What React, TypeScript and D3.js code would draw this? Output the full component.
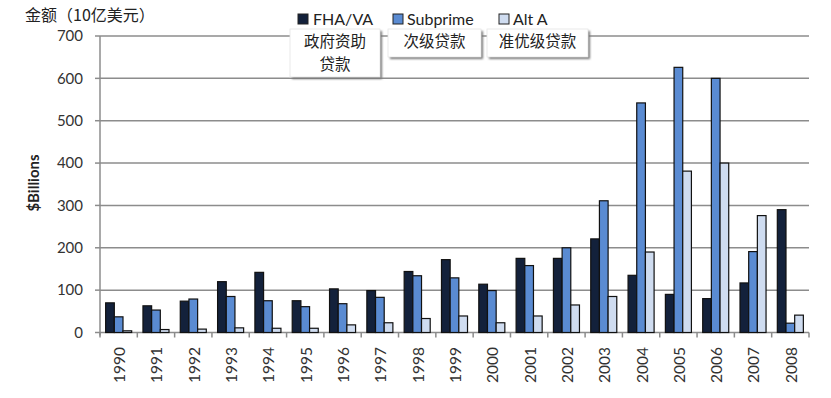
import React from "react";
import * as d3 from "d3";

const years = ["1990","1991","1992","1993","1994","1995","1996","1997","1998","1999","2000","2001","2002","2003","2004","2005","2006","2007","2008"];
const fhaVa = [70, 63, 74, 120, 142, 75, 103, 99, 144, 172, 114, 175, 175, 221, 135, 90, 80, 117, 290];
const subprime = [37, 53, 79, 85, 75, 61, 68, 83, 134, 129, 99, 158, 200, 311, 542, 626, 600, 191, 22];
const altA = [4, 7, 8, 11, 10, 10, 18, 23, 33, 39, 23, 39, 65, 85, 190, 381, 400, 276, 41];
const seriesNames = ["FHA/VA", "Subprime", "Alt A"];
const seriesCn = [["政府资助", "贷款"], ["次级贷款"], ["准优级贷款"]];
const yTicks = [0, 100, 200, 300, 400, 500, 600, 700];
const colors = ["#13213b", "#5a8bd2", "#cfdcf0"];

const W = 831, H = 398;
const left = 100, right = 809, top = 36, bottom = 332.5;

export default function App() {
  const x0 = d3.scaleBand<string>().domain(years).range([left, right]).paddingInner(0).paddingOuter(0);
  const x1 = d3.scaleBand<string>().domain(seriesNames).range([0, x0.bandwidth()]).paddingInner(0).paddingOuter(0.65);
  const y = d3.scaleLinear().domain([0, 700]).range([bottom, top]);
  const data = [fhaVa, subprime, altA];
  const latin = "Lato, 'Open Sans', sans-serif";
  const cjk = "'Noto Sans CJK SC', sans-serif";

  const legendItems = [
    { sx: 298, tx: 313 },
    { sx: 393, tx: 407 },
    { sx: 499, tx: 513 },
  ];
  const boxes = [
    { x: 290, w: 90, h: 48 },
    { x: 388, w: 93, h: 28 },
    { x: 487, w: 101, h: 28 },
  ];

  return (
    <svg width={W} height={H} style={{ position: "absolute", left: 0, top: 0, background: "#fff" }}>
      <defs>
        <filter id="sh" x="-10%" y="-10%" width="130%" height="140%">
          <feGaussianBlur stdDeviation="1.2" />
        </filter>
      </defs>
      {yTicks.filter(t => t > 0).map(t => (
        <line key={t} x1={left} x2={right} y1={y(t)} y2={y(t)} stroke="#8c8c8c" strokeWidth={1.5} />
      ))}
      <line x1={left} x2={left} y1={top} y2={bottom + 3} stroke="#8c8c8c" strokeWidth={1.5} />
      {yTicks.map(t => (
        <g key={t}>
          <line x1={left - 5} x2={left} y1={y(t)} y2={y(t)} stroke="#8c8c8c" strokeWidth={1.5} />
          <text x={83} y={y(t)} dy="0.35em" textAnchor="end" fontFamily={latin} fontSize={15} fill="#333">{t}</text>
        </g>
      ))}
      <line x1={left} x2={right} y1={bottom} y2={bottom} stroke="#8c8c8c" strokeWidth={1.5} />
      {years.map(yr => (
        <line key={"t" + yr} x1={x0(yr) as number} x2={x0(yr) as number} y1={bottom} y2={bottom + 5} stroke="#8c8c8c" strokeWidth={1.5} />
      ))}
      <line x1={right} x2={right} y1={bottom} y2={bottom + 5} stroke="#8c8c8c" strokeWidth={1.5} />
      {years.map(yr => {
        const cx = (x0(yr) as number) + x0.bandwidth() / 2;
        return (
          <text key={"l" + yr} transform={`translate(${cx + 1},347) rotate(-90)`} textAnchor="end" dy="0.35em" fontFamily={latin} fontSize={15.5} fill="#333">{yr}</text>
        );
      })}
      {years.map((yr, i) => (
        <g key={"g" + yr} transform={`translate(${x0(yr)},0)`}>
          {seriesNames.map((s, k) => {
            const v = data[k][i];
            return (
              <rect key={s} x={x1(s) as number} y={y(v)} width={x1.bandwidth()} height={bottom - y(v)}
                fill={colors[k]} stroke="#111" strokeWidth={1.2} />
            );
          })}
        </g>
      ))}
      <text x={25} y={15} dy="0.35em" fontFamily={cjk} fontSize={16} fill="#222">金额（10亿美元）</text>
      <text transform="translate(34,183) rotate(-90)" textAnchor="middle" dy="0.35em" fontFamily={latin} fontWeight="bold" fontSize={15} fill="#222">$Billions</text>
      {seriesNames.map((s, k) => (
        <g key={"lg" + s}>
          <rect x={legendItems[k].sx} y={14} width={10} height={10} fill={colors[k]} stroke="#222" strokeWidth={1} />
          <text x={legendItems[k].tx} y={19} dy="0.35em" fontFamily={latin} fontSize={16} fill="#222">{s}</text>
        </g>
      ))}
      {boxes.map((b, k) => (
        <g key={"bx" + k}>
          <rect x={b.x + 2} y={31} width={b.w} height={b.h} fill="#777" filter="url(#sh)" />
          <rect x={b.x} y={29} width={b.w} height={b.h} fill="#fff" stroke="#e4e4e4" strokeWidth={0.8} />
          {seriesCn[k].map((line, j) => (
            <text key={j} x={b.x + b.w / 2} y={42 + j * 22.5} dy="0.35em" textAnchor="middle" fontFamily={cjk} fontSize={15.5} fill="#222">{line}</text>
          ))}
        </g>
      ))}
    </svg>
  );
}
